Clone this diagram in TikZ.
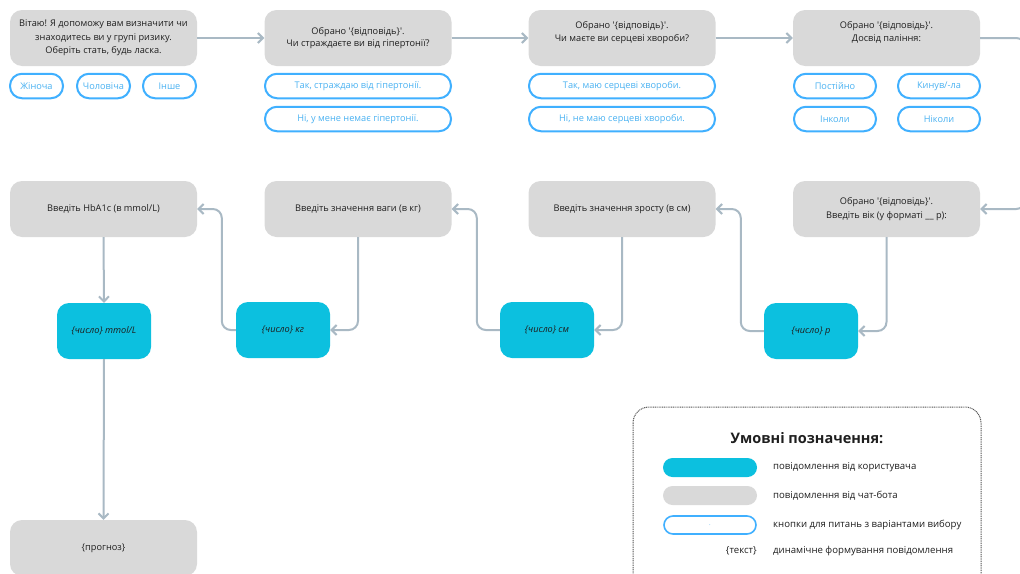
\documentclass[tikz,border=0pt]{standalone}
\usepackage{fontspec}
\setmainfont{Open Sans}
\usetikzlibrary{arrows.meta}

\definecolor{botgray}{HTML}{D9D9D9}
\definecolor{usercyan}{HTML}{0CC0DF}
\definecolor{btnblue}{HTML}{40B0FF}
\definecolor{btntext}{HTML}{4AB2F2}
\definecolor{connclr}{HTML}{A9B9C4}
\definecolor{ink}{HTML}{1E1E1E}
\definecolor{framegray}{HTML}{555555}

% the "chosen answer" placeholder with straight quotes
\newcommand{\chosenans}{Обрано \textquotesingle\{відповідь\}\textquotesingle.}

\begin{document}
\begin{tikzpicture}[x=1pt,y=-1pt,
  bot/.style={rectangle, rounded corners=12pt, fill=botgray, minimum width=187pt,
    minimum height=56pt, inner sep=0pt, align=center, text=ink,
    font=\fontsize{9.2}{13.5}\selectfont},
  user/.style={rectangle, rounded corners=12pt, fill=usercyan, minimum width=94pt,
    minimum height=56pt, inner sep=0pt, text=ink,
    font=\fontsize{9.2}{11}\selectfont\itshape},
  btn/.style={rectangle, rounded corners=12pt, draw=btnblue, line width=2pt,
    fill=white, minimum height=24.5pt, inner sep=0pt, text=btntext,
    font=\fontsize{9.2}{11}\selectfont},
  conn/.style={draw=connclr, line width=2pt, rounded corners=9pt,
    -{Straight Barb[length=5pt,width=10pt]}},
  legtxt/.style={anchor=west, inner sep=0pt, text=ink, font=\fontsize{9.6}{11}\selectfont},
]
\useasboundingbox (0,0) rectangle (1020,573);

% ---------- first row: bot questions ----------
\node[bot] (n1) at (103.5,38) {Вітаю! Я допоможу вам визначити чи\\знаходитесь ви у групі ризику.\\Оберіть стать, будь ласка.};
\node[bot, font=\fontsize{9.2}{11.5}\selectfont] (n2) at (358,38) {\chosenans\\Чи страждаєте ви від гіпертонії?};
\node[bot, font=\fontsize{9.2}{13}\selectfont] (n3) at (622,38) {\chosenans\\Чи маєте ви серцеві хвороби?\\\mbox{}};
\node[bot, font=\fontsize{9.2}{13}\selectfont] (n4) at (886.5,38) {\chosenans\\Досвід паління:\\\mbox{}};

% answer buttons
\node[btn, minimum width=53pt] (b1a) at (36.5,86) {Жіноча};
\node[btn, minimum width=53pt] (b1b) at (103.5,86) {Чоловіча};
\node[btn, minimum width=53pt] (b1c) at (169.5,86) {Інше};

\node[btn, minimum width=186pt] (b2a) at (358,86) {Так, страждаю від гіпертонії.};
\node[btn, minimum width=186pt] (b2b) at (358,119) {Ні, у мене немає гіпертонії.};

\node[btn, minimum width=186pt] (b3a) at (622,86) {Так, маю серцеві хвороби.};
\node[btn, minimum width=186pt] (b3b) at (622,119) {Ні, не маю серцеві хвороби.};

\node[btn, minimum width=82pt] (b4a) at (835,86) {Постійно};
\node[btn, minimum width=82pt] (b4b) at (939,86) {Кинув/-ла};
\node[btn, minimum width=82pt] (b4c) at (835,119) {Інколи};
\node[btn, minimum width=82pt] (b4d) at (939,119) {Ніколи};

% ---------- second row: numeric questions ----------
\node[bot] (m4) at (886.5,209) {\chosenans\\Введіть вік (у форматі \_\_ р):};
\node[bot] (m3) at (622,209) {Введіть значення зросту (в см)};
\node[bot] (m2) at (358,209) {Введіть значення ваги (в кг)};
\node[bot] (m1) at (103.5,209) {Введіть HbA1c (в mmol/L)};

% user replies
\node[user] (u4) at (811,331) {\{число\} р};
\node[user] (u3) at (547,330) {\{число\} см};
\node[user] (u2) at (283,330) {\{число\} кг};
\node[user] (u1) at (104,331) {\{число\} mmol/L};

% result
\node[bot] (p) at (103.5,548) {\{прогноз\}};

% ---------- connectors ----------
\draw[conn] (n1) -- (n2);
\draw[conn] (n2) -- (n3);
\draw[conn] (n3) -- (n4);
\draw[conn] (n4.east) -- ++(45,0) |- (m4.east);
\draw[conn] (m4.south) |- (u4.east);
\draw[conn] (u4.west) -- ++(-23,0) |- (m3.east);
\draw[conn] (m3.south) |- (u3.east);
\draw[conn] (u3.west) -- ++(-23,0) |- (m2.east);
\draw[conn] (m2.south) |- (u2.east);
\draw[conn] (u2.west) -- ++(-14,0) |- (m1.east);
\draw[conn] (m1.south) -- (u1.north);
\draw[conn] (u1.south) -- (p.north);

% ---------- legend ----------
\draw[framegray, line width=1pt, dash pattern=on 1pt off 0.8pt, rounded corners=16pt]
  (633,407) rectangle (981,600);
\node[text=ink, font=\fontsize{14.5}{16}\bfseries\selectfont] (legtitle) at (807,438) {Умовні позначення:};

\node[rectangle, rounded corners=9.5pt, fill=usercyan, minimum width=94pt, minimum height=19pt] (kuser) at (710,467.5) {};
\node[rectangle, rounded corners=9.5pt, fill=botgray, minimum width=94pt, minimum height=19pt] (kbot) at (710,495.5) {};
\node[rectangle, rounded corners=9pt, draw=btnblue, line width=1.6pt, fill=white, minimum width=92pt,
  minimum height=18pt, text=btntext, font=\fontsize{6}{7}\selectfont] (kbtn) at (710,525) {.};
\node[anchor=east, inner sep=0pt, text=ink, font=\fontsize{9.6}{11}\selectfont] (kdyn) at (757,551) {\{текст\}};

\node[legtxt] (luser) at (773,467) {повідомлення від користувача};
\node[legtxt] (lbot) at (773,496) {повідомлення від чат-бота};
\node[legtxt] (lbtn) at (773,525) {кнопки для питань з варіантами вибору};
\node[legtxt] (ldyn) at (773,551) {динамічне формування повідомлення};
\end{tikzpicture}
\end{document}
